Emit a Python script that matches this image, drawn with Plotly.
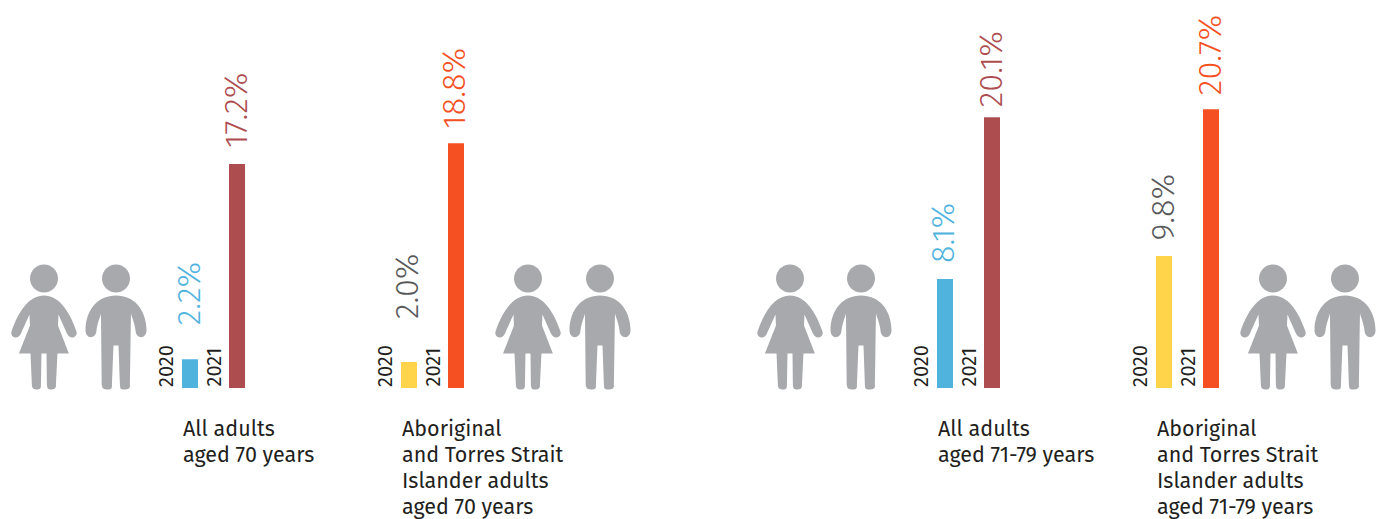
import plotly.graph_objects as go

W, H = 1384, 519
BASE_PX = 388

years = ["2020", "2021"]
captions = [
    ["All adults", "aged 70 years"],
    ["Aboriginal", "and Torres Strait", "Islander adults", "aged 70 years"],
    ["All adults", "aged 71-79 years"],
    ["Aboriginal", "and Torres Strait", "Islander adults", "aged 71-79 years"],
]
values_2020 = [2.2, 2.0, 8.1, 9.8]
values_2021 = [17.2, 18.8, 20.1, 20.7]
colors_2020 = ["#4FB3DE", "#FFD44A", "#4FB3DE", "#FFD44A"]
colors_2021 = ["#AD4D4F", "#F45022", "#AD4D4F", "#F45022"]
label_colors_2020 = ["#4FB3DE", "#58595B", "#4FB3DE", "#58595B"]

# layout of the four small panels
panel_left = [166.5, 385.5, 921.5, 1140.5]
panel_width = 94
panel_ymax = [29.8, 29.8, 28.8, 28.8]
label_gap_2020 = [32, 41, 14, 13]
label_gap_2021 = [14, 12, 8, 12]
people_centres = [(44, 116), (528, 600), (790, 861), (1273, 1345)]
CAPTION_STEP = 26

ICON_GREY = "#A7A9AC"
TEXT = "#231F20"
FONT = "Fira Sans, Noto Sans, sans-serif"


def circle(cx, cy, r):
    k = 0.5523 * r
    return (
        f"M{cx - r},{cy} C{cx - r},{cy + k} {cx - k},{cy + r} {cx},{cy + r} "
        f"C{cx + k},{cy + r} {cx + r},{cy + k} {cx + r},{cy} "
        f"C{cx + r},{cy - k} {cx + k},{cy - r} {cx},{cy - r} "
        f"C{cx - k},{cy - r} {cx - r},{cy - k} {cx - r},{cy} Z"
    )


def mirrored(start, segs):
    """Closed outline from the right half; segs = (c1, c2, end), x relative to centre, y up."""
    d = f"M{start[0]},{start[1]} "
    for c1, c2, p in segs:
        d += f"C{c1[0]},{c1[1]} {c2[0]},{c2[1]} {p[0]},{p[1]} "
    pts = [start] + [s[2] for s in segs]
    for i in range(len(segs) - 1, -1, -1):
        c1, c2, _ = segs[i]
        p = pts[i]
        d += f"C{-c2[0]},{c2[1]} {-c1[0]},{c1[1]} {-p[0]},{p[1]} "
    return d + "Z"


def line(a, b):
    return (a, b, b)


# icon outlines, in pixels above the icon's foot line, x relative to its centre
woman_body = mirrored((0, 94), [
    ((14, 94), (25, 80), (32.5, 58)),
    ((34, 52), (26, 49), (23, 56)),
    line((23, 56), (14.5, 75)),
    line((14.5, 75), (14, 64)),
    line((14, 64), (25, 36)),
    line((25, 36), (13.5, 36)),
    line((13.5, 36), (12, 4)),
    ((12, 1), (10, 0), (7, 0)),
    ((4, 0), (3.3, 1), (3, 4)),
    line((3, 4), (2.5, 36)),
    line((2.5, 36), (0, 36)),
])
man_body = mirrored((0, 94), [
    ((18, 94), (30, 80), (30.5, 60)),
    ((31, 50), (20, 50), (19.5, 59)),
    ((19, 65), (16, 72), (15, 76)),
    line((15, 76), (14, 4)),
    ((14, 1), (12, 0), (8, 0)),
    ((5, 0), (4, 1), (4, 4)),
    line((4, 4), (2.5, 44)),
    line((2.5, 44), (0, 44)),
])
head = circle(0, 111, 14)

fig = go.Figure()
shapes, notes = [], []

for i in range(4):
    suffix = str(i + 1) if i else ""
    xa, ya = "x" + suffix, "y" + suffix
    fig.add_trace(go.Bar(
        x=years, y=[values_2020[i], values_2021[i]],
        width=16 / 47,
        marker=dict(color=[colors_2020[i], colors_2021[i]], line_width=0),
        xaxis=xa, yaxis=ya, showlegend=False,
    ))
    fig.layout["xaxis" + suffix] = dict(
        domain=[panel_left[i] / W, (panel_left[i] + panel_width) / W],
        type="category", categoryorder="array", categoryarray=years,
        range=[-0.5, 1.5], visible=False, anchor=ya,
    )
    fig.layout["yaxis" + suffix] = dict(
        domain=[(H - BASE_PX) / H, 1], range=[0, panel_ymax[i]],
        visible=False, anchor=xa,
    )
    for k, yr in enumerate(years):
        notes.append(dict(
            xref=xa, yref=ya, x=k, y=0, xshift=-24, yshift=-1,
            text=yr, textangle=-90, showarrow=False, xanchor="center", yanchor="bottom",
            font=dict(family=FONT, size=20, color=TEXT, weight=400),
        ))
    for k, val, col, gap in (
        (0, values_2020[i], label_colors_2020[i], label_gap_2020[i]),
        (1, values_2021[i], colors_2021[i], label_gap_2021[i]),
    ):
        notes.append(dict(
            xref=xa, yref=ya, x=k, y=val, xshift=-1, yshift=gap,
            text=f"{val:.1f}%", textangle=-90, showarrow=False, xanchor="center", yanchor="bottom",
            font=dict(family=FONT, size=32.5, color=col, weight=300),
        ))
    for n, cap in enumerate(captions[i]):
        notes.append(dict(
            xref=xa, yref=ya, x=0, y=0, xshift=-8, yshift=-28 - n * CAPTION_STEP,
            text=cap, showarrow=False, xanchor="left", yanchor="top", align="left",
            height=24, borderpad=0,
            font=dict(family=FONT, size=21.5, color=TEXT, weight=400),
        ))
    for centre, body in zip(people_centres[i], (woman_body, man_body)):
        for path in (body, head):
            shapes.append(dict(
                type="path", path=path, xref="paper", yref="paper",
                xsizemode="pixel", ysizemode="pixel",
                xanchor=centre / W, yanchor=(H - 389.5) / H,
                fillcolor=ICON_GREY, line_width=0,
            ))

fig.update_layout(
    width=W, height=H, margin=dict(l=0, r=0, t=0, b=0),
    paper_bgcolor="white", plot_bgcolor="white",
    shapes=shapes, annotations=notes, showlegend=False,
)
fig.write_html("out.html", config=dict(displayModeBar=False),
               post_script="document.body.style.margin='0';")
